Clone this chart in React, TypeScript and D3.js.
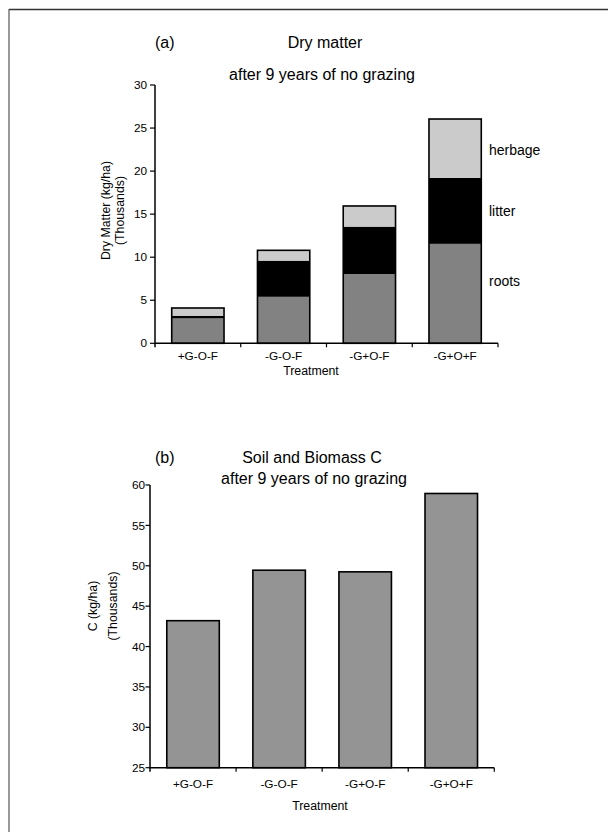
import React from "react";
import * as d3 from "d3";

const categories = ["+G-O-F", "-G-O-F", "-G+O-F", "-G+O+F"];
const roots = [2.9, 5.4, 8.05, 11.55];
const litter = [0.3, 4.2, 5.5, 7.65];
const herbage = [0.9, 1.2, 2.4, 6.85];
const seriesNames = ["roots", "litter", "herbage"];
const seriesLabelValues = [7.2, 15.3, 22.4];
const dryTicks = [0, 5, 10, 15, 20, 25, 30];
const soilC = [43.2, 49.45, 49.25, 58.95];
const cTicks = [25, 30, 35, 40, 45, 50, 55, 60];

const FONT = "'Liberation Sans', Arial, Helvetica, sans-serif";
const colors: Record<string, string> = { roots: "#828282", litter: "#000000", herbage: "#cbcbcb" };

function XAxis({ x, y0, cats }: { x: d3.ScaleBand<string>; y0: number; cats: string[] }) {
  const [r0, r1] = x.range();
  const step = x.step();
  const bounds = cats.map((_, i) => r0 + step * (i + 1));
  return (
    <g>
      <line x1={r0} x2={r1} y1={y0} y2={y0} stroke="#000" strokeWidth={1.5} />
      {bounds.map((b, i) => (
        <line key={i} x1={b} x2={b} y1={y0} y2={y0 + 4} stroke="#000" strokeWidth={1.2} />
      ))}
    </g>
  );
}

export default function App() {
  // Chart (a)
  const xA = d3.scaleBand<string>().domain(categories).range([155, 498]).paddingInner(0.39).paddingOuter(0.195);
  const yA = d3.scaleLinear().domain([0, 30]).range([343.3, 85]);
  const stackData = categories.map((c, i) => ({ cat: c, roots: roots[i], litter: litter[i], herbage: herbage[i] }));
  const stacked = d3.stack<any>().keys(seriesNames)(stackData);

  // Chart (b)
  const xB = d3.scaleBand<string>().domain(categories).range([150, 494.3]).paddingInner(0.39).paddingOuter(0.195);
  const yB = d3.scaleLinear().domain([25, 60]).range([767.7, 485]);

  return (
    <svg width={608} height={832} style={{ position: "absolute", left: 0, top: 0, background: "#fff" }} fontFamily={FONT}>
      <rect x={0} y={0} width={608} height={832} fill="#fff" />
      {/* frame */}
      <line x1={9} x2={608} y1={9.5} y2={9.5} stroke="#333" strokeWidth={1.4} />
      <line x1={9} x2={9} y1={9} y2={832} stroke="#555" strokeWidth={1.2} />

      {/* ===== Chart (a) ===== */}
      <text x={155} y={48} fontSize={16}>(a)</text>
      <text x={325} y={48} fontSize={16} textAnchor="middle">Dry matter</text>
      <text x={322} y={79.5} fontSize={16} textAnchor="middle">after 9 years of no grazing</text>

      {stacked.map((s) =>
        s.map((d: any, i: number) => (
          <rect
            key={s.key + i}
            x={xA(categories[i])}
            y={yA(d[1])}
            width={xA.bandwidth()}
            height={yA(d[0]) - yA(d[1])}
            fill={colors[s.key]}
          />
        ))
      )}
      {stacked[stacked.length - 1].map((d: any, i: number) => (
        <rect
          key={"o" + i}
          x={xA(categories[i])}
          y={yA(d[1])}
          width={xA.bandwidth()}
          height={yA(0) - yA(d[1])}
          fill="none"
          stroke="#000"
          strokeWidth={1.6}
        />
      ))}
      {/* y axis a */}
      <line x1={155} x2={155} y1={yA(30)} y2={yA(0) + 4} stroke="#000" strokeWidth={1.5} />
      {dryTicks.map((t) => (
        <g key={t}>
          <line x1={150} x2={155} y1={yA(t)} y2={yA(t)} stroke="#000" strokeWidth={1.2} />
          <text x={147} y={yA(t)} dy="0.35em" fontSize={11.8} textAnchor="end">{t}</text>
        </g>
      ))}
      <XAxis x={xA} y0={yA(0)} cats={categories} />
      {categories.map((c) => (
        <text key={c} x={(xA(c) as number) + xA.bandwidth() / 2} y={360} fontSize={11.8} textAnchor="middle">{c}</text>
      ))}
      <text x={311} y={375} fontSize={12.3} textAnchor="middle">Treatment</text>
      <text transform={`translate(110,210.5) rotate(-90)`} fontSize={12.3} textAnchor="middle">Dry Matter (kg/ha)</text>
      <text transform={`translate(124,210.5) rotate(-90)`} fontSize={12.3} textAnchor="middle">(Thousands)</text>
      {seriesNames.map((n, i) => (
        <text key={n} x={489} y={yA(seriesLabelValues[i])} dy="0.35em" fontSize={14}>{n}</text>
      ))}

      {/* ===== Chart (b) ===== */}
      <text x={155} y={463} fontSize={16}>(b)</text>
      <text x={312} y={463} fontSize={16} textAnchor="middle">Soil and Biomass C</text>
      <text x={314} y={484} fontSize={16} textAnchor="middle">after 9 years of no grazing</text>

      {categories.map((c, i) => (
        <rect
          key={"b" + c}
          x={xB(c)}
          y={yB(soilC[i])}
          width={xB.bandwidth()}
          height={yB(25) - yB(soilC[i])}
          fill="#949494"
          stroke="#000"
          strokeWidth={1.6}
        />
      ))}
      <line x1={150} x2={150} y1={yB(60)} y2={yB(25) + 4} stroke="#000" strokeWidth={1.5} />
      {cTicks.map((t) => (
        <g key={t}>
          <line x1={145.5} x2={150} y1={yB(t)} y2={yB(t)} stroke="#000" strokeWidth={1.2} />
          <text x={145} y={yB(t)} dy="0.35em" fontSize={11.8} textAnchor="end">{t}</text>
        </g>
      ))}
      <XAxis x={xB} y0={yB(25)} cats={categories} />
      {categories.map((c) => (
        <text key={"bl" + c} x={(xB(c) as number) + xB.bandwidth() / 2} y={788} fontSize={11.8} textAnchor="middle">{c}</text>
      ))}
      <text x={320} y={810} fontSize={12.3} textAnchor="middle">Treatment</text>
      <text transform={`translate(97,606) rotate(-90)`} fontSize={12.3} textAnchor="middle">C (kg/ha)</text>
      <text transform={`translate(117,606) rotate(-90)`} fontSize={12.3} textAnchor="middle">(Thousands)</text>
    </svg>
  );
}
